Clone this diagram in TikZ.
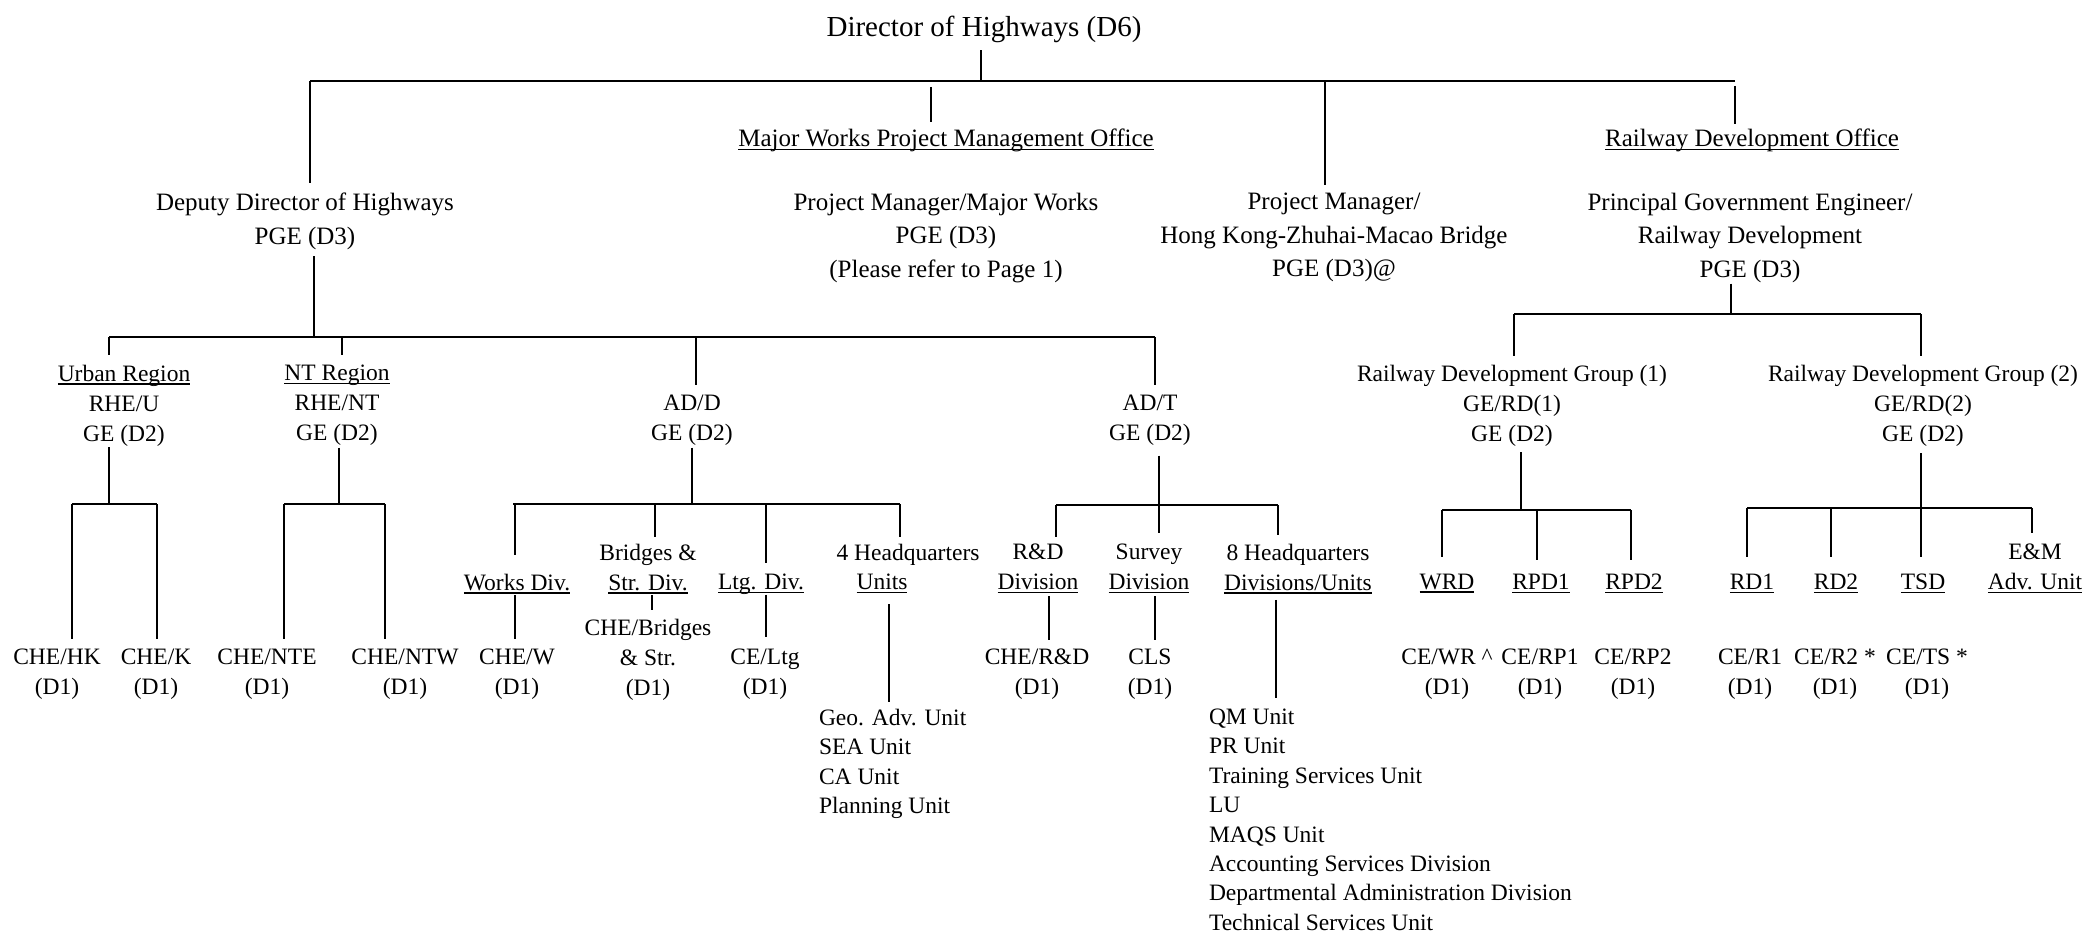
\documentclass[tikz,border=0pt]{standalone}
\usepackage{fontspec}
\setmainfont{Liberation Serif}
\newcommand\ulx[1]{\vtop{\hbox{\raisebox{0pt}[\height][0pt]{#1}}\kern2pt\hrule height1.6pt}}
\begin{document}
\begin{tikzpicture}[x=1pt,y=-1pt,
  ttl/.style={font=\fontsize{29}{34}\selectfont, align=center, inner sep=0pt, outer sep=0pt, anchor=north},
  uptext/.style={font=\fontsize{25}{33.5}\selectfont, align=center, inner sep=0pt, outer sep=0pt, anchor=north},
  lotext/.style={font=\fontsize{23.5}{30}\selectfont, align=center, inner sep=0pt, outer sep=0pt, anchor=north},
  lsttext/.style={font=\fontsize{23.5}{29.4}\selectfont, align=left, inner sep=0pt, outer sep=0pt, anchor=north west},
  conn/.style={line width=1.4pt, black},
  bus/.style={line width=1.8pt, black}]
\useasboundingbox (0,0) rectangle (2085,933);

% ---- nodes ----
\node[ttl] (dir) at (984,16.5) {Director of Highways (D6)};

\node[uptext] (dd) at (305,193) {Deputy Director of Highways\\PGE (D3)};
\node[uptext] (mwo) at (946,129) {\ulx{Major Works Project Management Office}};
\node[uptext] (pmmw) at (946,193) {Project Manager/Major Works\\PGE (D3)\\(Please refer to Page 1)};
\node[uptext] (hz) at (1334,193) {Project Manager/\\Hong Kong-Zhuhai-Macao Bridge\\PGE (D3)@};
\node[uptext] (rdo) at (1752,129) {\ulx{Railway Development Office}};
\node[uptext] (pgerd) at (1750,193) {Principal Government Engineer/\\Railway Development\\PGE (D3)};

\node[lotext] (ur) at (124,365) {\ulx{Urban Region}\\RHE/U\\GE (D2)};
\node[lotext] (nt) at (337,365) {\ulx{NT Region}\\RHE/NT\\GE (D2)};
\node[lotext] (add) at (692,395) {AD/D\\GE (D2)};
\node[lotext] (adt) at (1150,395) {AD/T\\GE (D2)};
\node[lotext] (rg1) at (1512,365) {Railway Development Group (1)\\GE/RD(1)\\GE (D2)};
\node[lotext] (rg2) at (1923,365) {Railway Development Group (2)\\GE/RD(2)\\GE (D2)};

\node[lotext] (chehk) at (57,649) {CHE/HK\\(D1)};
\node[lotext] (chek) at (156,649) {CHE/K\\(D1)};
\node[lotext] (chente) at (267,649) {CHE/NTE\\(D1)};
\node[lotext] (chentw) at (405,649) {CHE/NTW\\(D1)};

\node[lotext] (wd) at (517,574) {\ulx{Works Div.}};
\node[lotext] (bd) at (648,544) {Bridges \&\\\ulx{Str. Div.}};
\node[lotext] (ld) at (761,574) {\ulx{Ltg. Div.}};
\node[lotext] (hq4) at (908,544) {4 Headquarters};
\node[lotext] (hq4u) at (882,574) {\ulx{Units}};
\node[lotext] (cw) at (517,649) {CHE/W\\(D1)};
\node[lotext] (cb) at (648,619) {CHE/Bridges\\\& Str.\\(D1)};
\node[lotext] (cl) at (765,649) {CE/Ltg\\(D1)};
\node[lsttext] (l4) at (819,709) {Geo. Adv. Unit\\SEA Unit\\CA Unit\\Planning Unit};

\node[lotext] (rnd) at (1038,544) {R\&D\\\ulx{Division}};
\node[lotext] (sv) at (1149,544) {Survey\\\ulx{Division}};
\node[lotext] (hq8) at (1298,544) {8 Headquarters\\\ulx{Divisions/Units}};
\node[lotext] (crd) at (1037,649) {CHE/R\&D\\(D1)};
\node[lotext] (cls) at (1150,649) {CLS\\(D1)};
\node[lsttext] (l8) at (1209,709) {QM Unit\\PR Unit\\Training Services Unit\\LU\\MAQS Unit\\Accounting Services Division\\Departmental Administration Division\\Technical Services Unit};

\node[lotext] (wrd) at (1447,574) {\ulx{WRD}};
\node[lotext] (rpd1) at (1541,574) {\ulx{RPD1}};
\node[lotext] (rpd2) at (1634,574) {\ulx{RPD2}};
\node[lotext] (rd1) at (1752,574) {\ulx{RD1}};
\node[lotext] (rd2) at (1836,574) {\ulx{RD2}};
\node[lotext] (tsd) at (1923,574) {\ulx{TSD}};
\node[lotext] (em) at (2035,544) {E\&M\\\ulx{Adv. Unit}};
\node[lotext] (cwr) at (1447,649) {CE/WR \textasciicircum\\(D1)};
\node[lotext] (crp1) at (1540,649) {CE/RP1\\(D1)};
\node[lotext] (crp2) at (1633,649) {CE/RP2\\(D1)};
\node[lotext] (cr1) at (1750,649) {CE/R1\\(D1)};
\node[lotext] (cr2) at (1835,649) {CE/R2 *\\(D1)};
\node[lotext] (cts) at (1927,649) {CE/TS *\\(D1)};

% ---- bus coordinates ----
\coordinate (b0L) at (310,81);   \coordinate (b0R) at (1735,81);
\coordinate (b1L) at (109,337);  \coordinate (b1R) at (1155,337);
\coordinate (buL) at (72,504);   \coordinate (buR) at (157,504);
\coordinate (bnL) at (284,504);  \coordinate (bnR) at (385,504);
\coordinate (bdL) at (513,504);  \coordinate (bdR) at (900,504);
\coordinate (btL) at (1056,505); \coordinate (btR) at (1278,505);
\coordinate (brL) at (1514,314); \coordinate (brR) at (1921,314);
\coordinate (r1L) at (1442,510); \coordinate (r1R) at (1631,510);
\coordinate (r2L) at (1747,508); \coordinate (r2R) at (2032,508);

\foreach \a/\b in {b0L/b0R,b1L/b1R,buL/buR,bnL/bnR,bdL/bdR,btL/btR,brL/brR,r1L/r1R,r2L/r2R}
  \draw[bus] (\a) -- (\b);

% ---- parent to bus ----
\draw[conn, shorten <=7pt] ([xshift=-3pt]dir.south) -- ([xshift=-3pt]dir.south |- b0L);
\draw[conn, shorten <=7pt] ([xshift=9pt]dd.south) -- ([xshift=9pt]dd.south |- b1L);
\draw[conn, shorten <=1pt] ([xshift=-15pt]ur.south) -- ([xshift=-15pt]ur.south |- buL);
\draw[conn, shorten <=2pt] ([xshift=2pt]nt.south) -- ([xshift=2pt]nt.south |- bnL);
\draw[conn, shorten <=2pt] (add.south) -- (add.south |- bdL);
\draw[conn, shorten <=10pt] ([xshift=9pt]adt.south) -- ([xshift=9pt]adt.south |- btL);
\draw[conn, shorten <=1pt] ([xshift=-19pt]pgerd.south) -- ([xshift=-19pt]pgerd.south |- brL);
\draw[conn, shorten <=6pt] ([xshift=9pt]rg1.south) -- ([xshift=9pt]rg1.south |- r1L);
\draw[conn, shorten <=7pt] ([xshift=-2pt]rg2.south) -- ([xshift=-2pt]rg2.south |- r2L);

% ---- bus to child ----
\draw[conn, shorten >=10pt] ([xshift=5pt]dd.north |- b0L) -- ([xshift=5pt]dd.north);
\draw[conn, shorten <=6pt, shorten >=7pt] ([xshift=-15pt]mwo.north |- b0L) -- ([xshift=-15pt]mwo.north);
\draw[conn, shorten >=8pt] ([xshift=-9pt]hz.north |- b0L) -- ([xshift=-9pt]hz.north);
\draw[conn, shorten <=5pt, shorten >=5pt] ([xshift=-17pt]rdo.north |- b0L) -- ([xshift=-17pt]rdo.north);

\draw[conn, shorten >=10pt] ([xshift=-15pt]ur.north |- b1L) -- ([xshift=-15pt]ur.north);
\draw[conn, shorten >=10pt] ([xshift=5pt]nt.north |- b1L) -- ([xshift=5pt]nt.north);
\draw[conn, shorten >=10pt] ([xshift=4pt]add.north |- b1L) -- ([xshift=4pt]add.north);
\draw[conn, shorten >=10pt] ([xshift=5pt]adt.north |- b1L) -- ([xshift=5pt]adt.north);

\draw[conn, shorten >=10pt] ([xshift=15pt]chehk.north |- buL) -- ([xshift=15pt]chehk.north);
\draw[conn, shorten >=10pt] ([xshift=1pt]chek.north |- buL) -- ([xshift=1pt]chek.north);
\draw[conn, shorten >=10pt] ([xshift=17pt]chente.north |- bnL) -- ([xshift=17pt]chente.north);
\draw[conn, shorten >=10pt] ([xshift=-20pt]chentw.north |- bnL) -- ([xshift=-20pt]chentw.north);

\draw[conn, shorten >=19pt] ([xshift=-2pt]wd.north |- bdL) -- ([xshift=-2pt]wd.north);
\draw[conn, shorten >=7pt] ([xshift=7pt]bd.north |- bdL) -- ([xshift=7pt]bd.north);
\draw[conn, shorten >=11pt] ([xshift=5pt]ld.north |- bdL) -- ([xshift=5pt]ld.north);
\draw[conn, shorten >=7pt] ([xshift=-8pt]hq4.north |- bdL) -- ([xshift=-8pt]hq4.north);

\draw[conn, shorten >=7pt] ([xshift=18pt]rnd.north |- btL) -- ([xshift=18pt]rnd.north);
\draw[conn, shorten >=11pt] ([xshift=10pt]sv.north |- btL) -- ([xshift=10pt]sv.north);
\draw[conn, shorten >=9pt] ([xshift=-20pt]hq8.north |- btL) -- ([xshift=-20pt]hq8.north);

\draw[conn, shorten >=9pt] ([xshift=2pt]rg1.north |- brL) -- ([xshift=2pt]rg1.north);
\draw[conn, shorten >=9pt] ([xshift=-2pt]rg2.north |- brL) -- ([xshift=-2pt]rg2.north);

\draw[conn, shorten >=17pt] ([xshift=-5pt]wrd.north |- r1L) -- ([xshift=-5pt]wrd.north);
\draw[conn, shorten >=14pt] ([xshift=-4pt]rpd1.north |- r1L) -- ([xshift=-4pt]rpd1.north);
\draw[conn, shorten >=14pt] ([xshift=-3pt]rpd2.north |- r1L) -- ([xshift=-3pt]rpd2.north);

\draw[conn, shorten >=17pt] ([xshift=-5pt]rd1.north |- r2L) -- ([xshift=-5pt]rd1.north);
\draw[conn, shorten >=17pt] ([xshift=-5pt]rd2.north |- r2L) -- ([xshift=-5pt]rd2.north);
\draw[conn, shorten >=17pt] ([xshift=-2pt]tsd.north |- r2L) -- ([xshift=-2pt]tsd.north);
\draw[conn, shorten >=11pt] ([xshift=-3pt]em.north |- r2L) -- ([xshift=-3pt]em.north);

% ---- unit to holder ----
\draw[conn, shorten <=1.5pt, shorten >=10pt] ([xshift=-2pt]wd.south) -- ([xshift=-2pt]wd.south |- cw.north);
\draw[conn, shorten <=1.5pt, shorten >=9pt] ([xshift=4pt]bd.south) -- ([xshift=4pt]bd.south |- cb.north);
\draw[conn, shorten <=1.5pt, shorten >=12pt] ([xshift=5pt]ld.south) -- ([xshift=5pt]ld.south |- cl.north);
\draw[conn, shorten <=11pt, shorten >=7pt] ([xshift=7pt]hq4u.south) -- ([xshift=7pt]hq4u.south |- l4.north);
\draw[conn, shorten <=3pt, shorten >=9pt] ([xshift=11pt]rnd.south) -- ([xshift=11pt]rnd.south |- crd.north);
\draw[conn, shorten <=3pt, shorten >=9pt] ([xshift=6pt]sv.south) -- ([xshift=6pt]sv.south |- cls.north);
\draw[conn, shorten <=6pt, shorten >=11pt] ([xshift=-22pt]hq8.south) -- ([xshift=-22pt]hq8.south |- l8.north);
\end{tikzpicture}
\end{document}
